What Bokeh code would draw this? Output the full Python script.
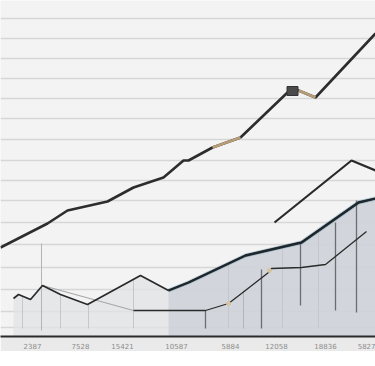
from bokeh.plotting import figure
from bokeh.models import Range1d, FixedTicker
from bokeh.embed import file_html
from bokeh.resources import INLINE

# x tick positions / labels
tick_pos = [32, 80, 122, 176, 230, 276, 325, 372]
tick_labels = ["2387", "7528", "15421", "10587", "5884", "12058", "18836", "5827"]

# horizontal grid values
grid_vals = [9, 25, 47, 69, 92, 114, 136, 156, 176, 197, 218, 238, 258, 278, 298, 318]

# top rising series
top_x = [0, 47, 67, 107, 133, 163, 183, 188, 212, 240, 287, 298, 315, 375]
top_y = [89, 113, 126, 135, 149, 159, 176, 176, 189, 199, 244, 246, 239, 303]

# accent segments on top series
acc_x0 = [212, 298]
acc_y0 = [189, 246]
acc_x1 = [240, 315]
acc_y1 = [199, 239]

# marker on top series
mark_x = [292]
mark_y = [245.5]

# right peak series
peak_x = [274, 351, 375]
peak_y = [114, 176, 166]

# main series with area
main_x = [13, 18, 30, 42, 60, 87, 140, 168, 188, 245, 301, 358, 375]
main_y = [38, 42, 37, 51, 42, 32, 61, 46, 54, 81, 94, 134, 138]

# lower series
low_x = [42, 133, 205, 228, 241, 268, 271, 301, 325, 366]
low_y = [51, 26, 26, 33, 43, 64, 68, 69, 72, 105]

# accent points on lower series
lacc_x = [228, 269]
lacc_y = [33, 66]

# vertical drop lines
vdark_x = [205, 261, 300, 335, 356]
vdark_top = [26, 67, 94, 114, 136]
vdark_bot = [8, 8, 31, 26, 24]
vlight_x = [41, 243]
vlight_top = [93, 46]
vlight_bot = [6, 8]
vfaint_x = [22, 60, 88, 133, 228, 282, 318]
vfaint_top = [40, 42, 32, 57, 73, 90, 106]

p = figure(frame_width=375, frame_height=336, x_range=Range1d(0, 375), y_range=Range1d(0, 336),
           output_backend="svg", toolbar_location=None, min_border=0,
           background_fill_color="#f3f3f3", border_fill_color="#eaeaea", outline_line_color=None)

p.xgrid.grid_line_color = None
p.ygrid.ticker = FixedTicker(ticks=grid_vals)
p.ygrid.grid_line_color = "#d6d6d6"
p.ygrid.grid_line_width = 1.5
p.yaxis.visible = False

p.xaxis.ticker = FixedTicker(ticks=tick_pos)
p.xaxis.major_label_overrides = {k: v for k, v in zip(tick_pos, tick_labels)}
p.xaxis.axis_line_color = "#2b2b2b"
p.xaxis.axis_line_width = 2
p.xaxis.major_tick_line_color = None
p.xaxis.minor_tick_line_color = None
p.xaxis.major_label_text_font = "DejaVu Sans"
p.xaxis.major_label_text_font_size = "7px"
p.xaxis.major_label_text_color = "#8c8c8c"
p.xaxis.major_label_standoff = 0

# area fills
p.varea(x=main_x, y1=0, y2=main_y, fill_color="#e1e3e6", fill_alpha=0.75)
p.varea(x=main_x[7:], y1=0, y2=main_y[7:], fill_color="#c9ced5", fill_alpha=0.7)

# vertical lines
p.segment(x0=vfaint_x, y0=8, x1=vfaint_x, y1=vfaint_top, line_color="#c4c8cd", line_width=1)
p.segment(x0=vlight_x, y0=vlight_bot, x1=vlight_x, y1=vlight_top, line_color="#b4b4b4", line_width=1)
p.segment(x0=vdark_x, y0=vdark_bot, x1=vdark_x, y1=vdark_top, line_color="#6a6e73", line_width=1.3)

# lower series
p.line(low_x[:2], low_y[:2], line_color="#a8a8a8", line_width=1.2)
p.line(low_x[1:], low_y[1:], line_color="#2a2a2a", line_width=1.3)
p.scatter(lacc_x, lacc_y, size=4, color="#d6c4a0")

# main series
p.line(main_x, main_y, line_color="#2a2a2a", line_width=1.7)
p.line(main_x[7:], main_y[7:], line_color="#4f7f95", line_width=4, line_alpha=0.35)
p.line(main_x[7:], main_y[7:], line_color="#1e262d", line_width=2.4)

# peak series
p.line(peak_x, peak_y, line_color="#2a2a2a", line_width=2.2)

# top series
p.line(top_x, top_y, line_color="#2d2d2d", line_width=2.6)
p.segment(x0=acc_x0, y0=acc_y0, x1=acc_x1, y1=acc_y1, line_color="#b89c78", line_width=2.6)
p.rect(x=mark_x, y=mark_y, width=11, height=9, fill_color="#4a4a4a", line_color="#333333")

open("out.html", "w").write(file_html(p, INLINE))
